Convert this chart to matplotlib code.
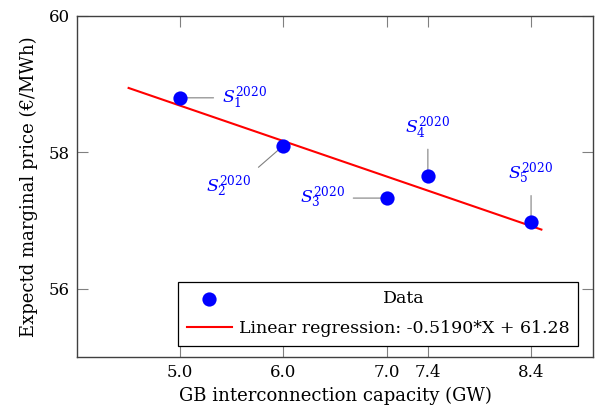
import numpy as np
import matplotlib
matplotlib.use("Agg")
import matplotlib.pyplot as plt

# GB interconnection scenarios for 2020
capacity = [5.0, 6.0, 7.0, 7.4, 8.4]
price = [58.80, 58.10, 57.33, 57.66, 56.98]
scenario_labels = [r"$S_{1}^{2020}$", r"$S_{2}^{2020}$", r"$S_{3}^{2020}$",
                   r"$S_{4}^{2020}$", r"$S_{5}^{2020}$"]
slope = -0.5190
intercept = 61.28
fit_range = [4.5, 8.5]
xticks = [5.0, 6.0, 7.0, 7.4, 8.4]
yticks = [56, 58, 60]

plt.rcParams["font.family"] = "DejaVu Serif"
plt.rcParams["mathtext.fontset"] = "dejavuserif"
plt.rcParams["font.size"] = 12


def main():
    fig = plt.figure(figsize=(5.98, 4.12), dpi=100)
    ax = fig.add_axes([0.1288, 0.1335, 0.8628, 0.8277])

    xfit = np.array(fit_range)
    ax.plot(xfit, slope * xfit + intercept, color="red", lw=1.5, zorder=2,
            label=f"Linear regression: {slope:.4f}*X + {intercept:.2f}")
    ax.scatter(capacity, price, s=105, color="blue", zorder=3,
               linewidths=0, label="Data")

    # label offsets (points) and where the leader line meets the label
    offsets = [(30, 0), (-23, -20), (-30, 0), (0, 25), (0, 25)]
    aligns = [("left", "center"), ("right", "top"), ("right", "center"),
              ("center", "bottom"), ("center", "bottom")]
    relpos = [(0, 0.5), (1, 1), (1, 0.5), (0.5, 0), (0.5, 0)]
    for i in range(len(capacity)):
        ax.annotate(scenario_labels[i], (capacity[i], price[i]),
                    xytext=offsets[i], textcoords="offset points",
                    ha=aligns[i][0], va=aligns[i][1], color="blue",
                    fontsize=12.5, zorder=1,
                    arrowprops=dict(arrowstyle="-", color="gray", lw=0.8,
                                    shrinkA=4, shrinkB=0, relpos=relpos[i]))

    ax.set_xlim(4, 9)
    ax.set_ylim(55, 60)
    ax.set_xticks(xticks)
    ax.set_xticklabels([f"{t:.1f}" for t in xticks])
    ax.set_yticks(yticks)
    ax.tick_params(direction="in", length=8, width=0.8, color="gray",
                   top=True, right=True, pad=5)
    for sp in ax.spines.values():
        sp.set_color("#404040")
        sp.set_linewidth(1.0)

    ax.set_xlabel("GB interconnection capacity (GW)", fontsize=13, labelpad=4)
    ax.set_ylabel("Expectd marginal price (€/MWh)", fontsize=13, labelpad=8)

    handles, labels = ax.get_legend_handles_labels()
    leg = ax.legend(handles[::-1], labels[::-1], loc="lower right",
                    bbox_to_anchor=(0.971, 0.032), fancybox=False,
                    edgecolor="black", framealpha=1, borderpad=0.5,
                    handlelength=2.6, handletextpad=0.4, labelspacing=0.75,
                    borderaxespad=0, fontsize=12.5)
    leg.get_frame().set_linewidth(0.9)

    # centre the shorter entry text over the longer one
    fig.canvas.draw()
    r = fig.canvas.get_renderer()
    widths = [t.get_window_extent(r).width for t in leg.get_texts()]
    leg.get_texts()[0].set_x((max(widths) - widths[0]) / 2)

    fig.savefig("out.png", dpi=100)


if __name__ == "__main__":
    main()
